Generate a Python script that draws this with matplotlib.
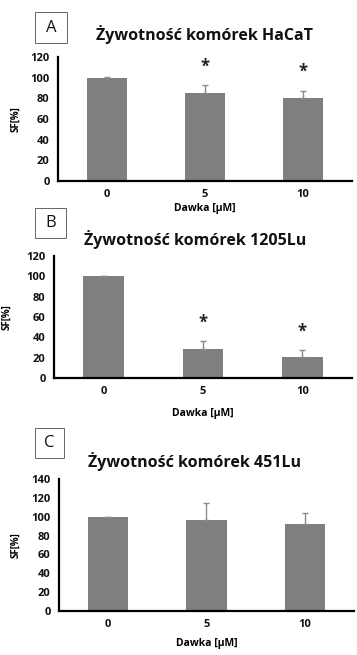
import matplotlib
matplotlib.use("Agg")
import matplotlib.pyplot as plt
from matplotlib.patches import Rectangle
import numpy as np

plt.rcParams['font.family'] = ['Open Sans', 'DejaVu Sans']

# dose groups (uM)
doses = ['0', '5', '10']

# survival fraction [%] and SD for each cell line
hacat_sf = [100, 85, 80]
hacat_err = [1, 7.5, 7.5]
hacat_sig = [False, True, True]

lu1205_sf = [100, 29, 20.5]
lu1205_err = [0.5, 7, 7]
lu1205_sig = [False, True, True]

lu451_sf = [100, 96, 92.5]
lu451_err = [0, 19, 11.5]
lu451_sig = [False, False, False]

panels = [
    ('A', 'Żywotność komórek HaCaT', hacat_sf, hacat_err, hacat_sig, 120),
    ('B', 'Żywotność komórek 1205Lu', lu1205_sf, lu1205_err, lu1205_sig, 120),
    ('C', 'Żywotność komórek 451Lu', lu451_sf, lu451_err, lu451_sig, 140),
]

W, H = 357, 655
fig = plt.figure(figsize=(W / 100, H / 100), dpi=100)

# axes boxes in pixels: left, right, top, bottom
ax_px = [(58, 352, 57, 181), (54, 352, 256, 378), (59, 354, 479, 611)]
title_px = [(205, 35), (195, 240), (195, 462)]
box_px = [(35, 67, 12, 43), (35, 66, 208, 238), (35, 64, 428, 458)]
ylab_x = [-0.126, -0.141, -0.128]
xlab_pad = [2, 7.5, 5.5]

bar_color = '#7f7f7f'

for i, (letter, title, sf, err, sig, ymax) in enumerate(panels):
    l, r, t, b = ax_px[i]
    ax = fig.add_axes([l / W, 1 - b / H, (r - l) / W, (b - t) / H])
    x = np.arange(len(doses))
    ax.bar(x, sf, width=0.41, color=bar_color)
    ax.errorbar(x, sf, yerr=[np.zeros(len(err)), err], fmt='none',
                ecolor='#8a8a8a', elinewidth=1.0, capsize=2.5, capthick=1.0)
    for xi, v, e, s in zip(x, sf, err, sig):
        if s:
            ax.text(xi, v + e + 18, '*', ha='center', va='center',
                    fontsize=12, fontweight='bold', color='#222222')
    ax.set_xlim(-0.5, 2.5)
    ax.set_ylim(0, ymax)
    ax.set_yticks(np.arange(0, ymax + 1, 20))
    ax.set_xticks(x)
    ax.set_xticklabels(doses)
    ax.tick_params(length=0, labelsize=8, pad=6, colors='#111111')
    for lab in ax.get_xticklabels() + ax.get_yticklabels():
        lab.set_fontweight('bold')
    for side in ['top', 'right']:
        ax.spines[side].set_visible(False)
    for side in ['left', 'bottom']:
        ax.spines[side].set_linewidth(1.6)
    ax.set_ylabel('SF[%]', fontsize=7, fontweight='bold')
    ax.yaxis.set_label_coords(ylab_x[i], 0.5)
    ax.set_xlabel('Dawka [µM]', fontsize=7.5, fontweight='bold', labelpad=xlab_pad[i])

    tx, ty = title_px[i]
    fig.text(tx / W, 1 - ty / H, title, ha='center', va='center',
             fontsize=11.5, fontweight='bold', color='#111111')

    bl, br, bt, bb = box_px[i]
    fig.add_artist(Rectangle((bl / W, 1 - bb / H), (br - bl) / W, (bb - bt) / H,
                             transform=fig.transFigure, fill=False,
                             ec='#666666', lw=0.7))
    fig.text((bl + br) / 2 / W, 1 - (bt + bb) / 2 / H, letter, ha='center',
             va='center', fontsize=12, color='#111111')

fig.savefig('out.png', dpi=100)
